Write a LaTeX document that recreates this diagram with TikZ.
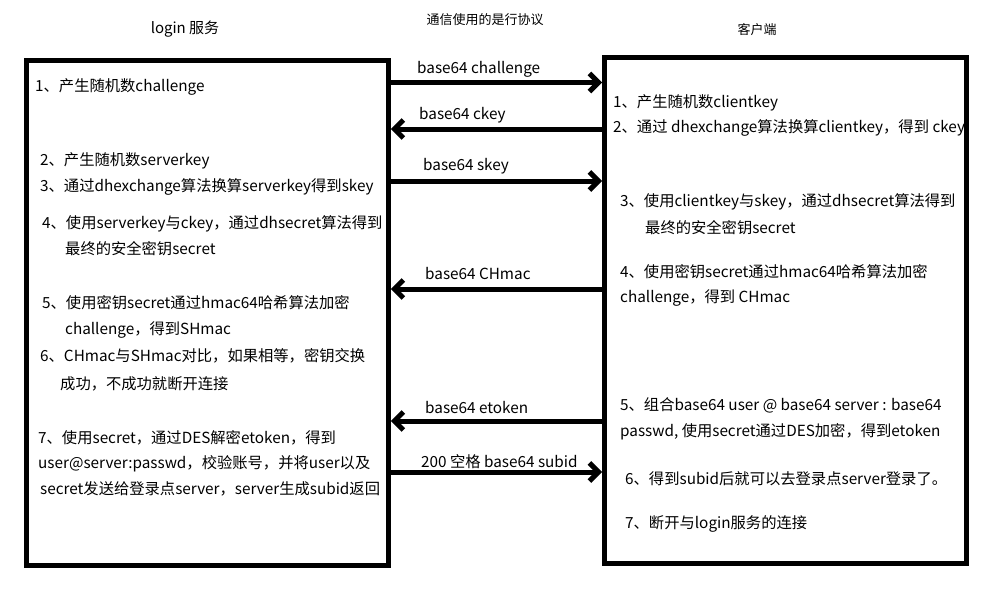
\documentclass[tikz,border=0pt]{standalone}
\usepackage{fontspec}
\setmainfont{Noto Sans CJK SC}
\usetikzlibrary{arrows.meta}
\tikzset{
  party/.style={draw, line width=5pt, minimum width=362pt, minimum height=505pt, inner sep=0pt},
  msg/.style={line width=5pt, -{Straight Barb[length=9pt,width=18pt]}},
  txt/.style={anchor=west, inner sep=0pt, yshift=-1.5pt, font=\fontsize{15.3}{18}\selectfont},
  title/.style={inner sep=0pt, font=\fontsize{15}{18}\selectfont},
  note/.style={inner sep=0pt, font=\fontsize{13}{16}\selectfont}
}

\begin{document}
\begin{tikzpicture}[x=1pt,y=-1pt]
  \useasboundingbox (0,0) rectangle (997,602);
  % the two parties
  \node[party] (login) at (207.25,313) {};
  \node[party, minimum height=505.5pt] (client) at (785.5,310.25) {};
  \node[title] (logintitle) at (185,29) {login 服务};
  \node[note] (proto) at (485,20) {通信使用的是行协议};
  \node[note] (clienttitle) at (757,30) {客户端};

  % messages
  \draw[msg] (login.east |- 0,82.5) -- (client.west |- 0,82.5);
  \draw[msg] (client.west |- 0,129) -- (login.east |- 0,129);
  \draw[msg] (login.east |- 0,181) -- (client.west |- 0,181);
  \draw[msg] (client.west |- 0,289) -- (login.east |- 0,289);
  \draw[msg] (client.west |- 0,421) -- (login.east |- 0,421);
  \draw[msg] (login.east |- 0,472) -- (client.west |- 0,472);
  \node[txt] (m1) at (417,68) {base64 challenge};
  \node[txt] (m2) at (419,114) {base64 ckey};
  \node[txt] (m3) at (423,165) {base64 skey};
  \node[txt] (m4) at (425,272) {base64 CHmac};
  \node[txt] (m5) at (425,406) {base64 etoken};
  \node[txt] (m6) at (421,460) {200 空格 base64 subid};

  % login side
  \node[txt] (s1) at (35,85) {1、产生随机数challenge};
  \node[txt] (s2) at (40,159) {2、产生随机数serverkey};
  \node[txt] (s3) at (40,185) {3、通过dhexchange算法换算serverkey得到skey};
  \node[txt] (s4) at (42,222) {4、使用serverkey与ckey，通过dhsecret算法得到};
  \node[txt] (s4b) at (65,247) {最终的安全密钥secret};
  \node[txt] (s5) at (42,301) {5、使用密钥secret通过hmac64哈希算法加密};
  \node[txt] (s5b) at (65,328) {challenge，得到SHmac};
  \node[txt] (s6) at (40,354) {6、CHmac与SHmac对比，如果相等，密钥交换};
  \node[txt] (s6b) at (60,382) {成功，不成功就断开连接};
  \node[txt] (s7) at (38,436) {7、使用secret，通过DES解密etoken，得到};
  \node[txt] (s7b) at (38,462) {user@server:passwd，校验账号，并将user以及};
  \node[txt] (s7c) at (40,487) {secret发送给登录点server，server生成subid返回};

  % client side
  \node[txt] (c1) at (613,101) {1、产生随机数clientkey};
  \node[txt] (c2) at (613,126) {2、通过 dhexchange算法换算clientkey，得到 ckey};
  \node[txt] (c3) at (620,200) {3、使用clientkey与skey，通过dhsecret算法得到};
  \node[txt] (c3b) at (645,226) {最终的安全密钥secret};
  \node[txt] (c4) at (620,270) {4、使用密钥secret通过hmac64哈希算法加密};
  \node[txt] (c4b) at (620,297) {challenge，得到 CHmac};
  \node[txt] (c5) at (620,404) {5、组合base64 user @ base64 server : base64};
  \node[txt] (c5b) at (620,430) {passwd, 使用secret通过DES加密，得到etoken};
  \node[txt] (c6) at (625,477) {6、得到subid后就可以去登录点server登录了。};
  \node[txt] (c7) at (625,522) {7、断开与login服务的连接};
\end{tikzpicture}
\end{document}
